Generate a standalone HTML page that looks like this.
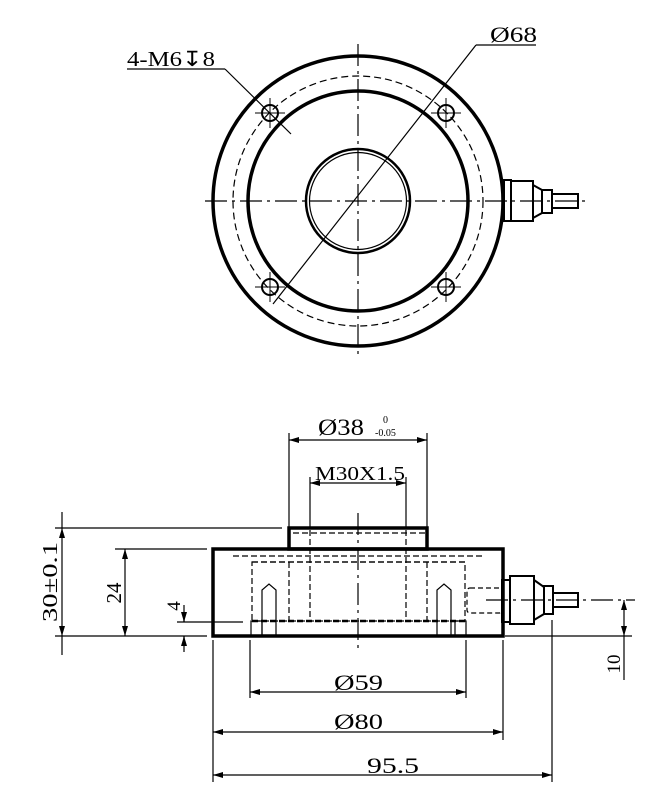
<!DOCTYPE html>
<html><head><meta charset="utf-8"><style>
html,body{margin:0;padding:0;background:#fff;}
svg{display:block;}
text{font-family:"Liberation Serif","Noto Serif CJK SC",serif;fill:#000;}
</style></head><body>
<svg width="669" height="800" viewBox="0 0 669 800" xmlns="http://www.w3.org/2000/svg">
<defs>
<marker id="a" viewBox="0 0 10 6" refX="10" refY="3" markerWidth="10" markerHeight="6" markerUnits="userSpaceOnUse" orient="auto-start-reverse"><path d="M0,0L10,3L0,6z" fill="#000"/></marker>
</defs>
<g fill="none" stroke="#000">
<circle cx="358" cy="201" r="145" stroke-width="3.5"/>
<circle cx="358" cy="201" r="110" stroke-width="3.5"/>
<circle cx="358" cy="201" r="125" stroke-width="1.2" stroke-dasharray="7,4"/>
<circle cx="358" cy="201" r="52" stroke-width="2.5"/>
<circle cx="358" cy="201" r="48.5" stroke-width="1.2"/>
<line x1="205" y1="201" x2="590" y2="201" stroke-width="1.2" stroke-dasharray="22,5,3,5"/>
<line x1="358" y1="44" x2="358" y2="357" stroke-width="1.2" stroke-dasharray="22,5,3,5"/>
<g stroke-width="2">
<circle cx="270" cy="113" r="8"/><circle cx="446" cy="113" r="8"/>
<circle cx="270" cy="287" r="8"/><circle cx="446" cy="287" r="8"/>
</g>
<g stroke-width="1">
<path d="M255,113H285M270,98V128M431,113H461M446,98V128M255,287H285M270,272V302M431,287H461M446,272V302"/>
</g>
<g stroke-width="2">
<rect x="504" y="180" width="7" height="41"/>
<rect x="511" y="181" width="22" height="40"/>
<path d="M533,185L542,190V213L533,218"/>
<rect x="542" y="190" width="10" height="23"/>
<rect x="552" y="194" width="26" height="14"/>
</g>
<g stroke-width="1.2">
<line x1="127" y1="69" x2="225" y2="69"/>
<line x1="225" y1="69" x2="291" y2="134"/>
<line x1="476" y1="45" x2="536" y2="45"/>
<line x1="476" y1="45" x2="273" y2="304"/>
</g>

<rect x="213" y="549" width="290" height="87" stroke-width="3.5"/>
<rect x="289" y="528" width="138" height="21" stroke-width="3.5"/>
<g stroke-width="1.2" stroke-dasharray="6,3">
<line x1="252" y1="562" x2="465" y2="562"/>
<rect x="252" y="562" width="213" height="59"/>
<line x1="289" y1="562" x2="289" y2="621"/>
<line x1="427" y1="562" x2="427" y2="621"/>
<line x1="310" y1="530" x2="310" y2="621"/>
<line x1="406" y1="530" x2="406" y2="621"/>
<line x1="293" y1="533" x2="425" y2="533"/>
<line x1="233" y1="556" x2="485" y2="556"/>
<line x1="252" y1="621" x2="465" y2="621" stroke-width="2.5"/>
</g>
<g stroke-width="1.2">
<path d="M262,636V590L269,584L276,590V636"/>
<path d="M437,636V590L444,584L451,590V636"/>
<rect x="251" y="621" width="11" height="15"/>
<rect x="455" y="621" width="11" height="15"/>
<line x1="358" y1="513" x2="358" y2="650" stroke-dasharray="22,5,3,5"/>
</g>
<g stroke-width="2">
<rect x="467" y="588" width="35" height="25" rx="3" stroke-dasharray="5,3" stroke-width="1.2"/>
<rect x="502" y="580" width="8" height="42"/>
<rect x="510" y="576" width="24" height="48"/>
<path d="M534,580L544,587V614L534,620"/>
<rect x="544" y="586" width="9" height="28"/>
<rect x="553" y="593" width="25" height="14"/>
</g>
<line x1="486" y1="600" x2="635" y2="600" stroke-width="1.2" stroke-dasharray="22,5,3,5"/>

<g stroke-width="1.2">
<path d="M289,433V528M427,433V528M310,477V528M406,477V528"/>
<path d="M55,528H282M115,549H207M177,622H243M55,636H207"/>
<path d="M213,640V782M503,640V740M552,620V782M250,640V698M466,640V698"/>
<path d="M505,636H632"/>
<path d="M62,512V528M62,636V655M184,605V622M184,636V652"/>
<line x1="289" y1="440" x2="427" y2="440" marker-start="url(#a)" marker-end="url(#a)"/>
<line x1="310" y1="483" x2="406" y2="483" marker-start="url(#a)" marker-end="url(#a)"/>
<line x1="62" y1="528" x2="62" y2="636" marker-start="url(#a)" marker-end="url(#a)"/>
<line x1="125" y1="549" x2="125" y2="636" marker-start="url(#a)" marker-end="url(#a)"/>
<line x1="184" y1="612" x2="184" y2="622" marker-end="url(#a)"/>
<line x1="184" y1="646" x2="184" y2="636" marker-end="url(#a)"/>
<line x1="624" y1="600" x2="624" y2="636" marker-start="url(#a)" marker-end="url(#a)"/>
<line x1="624" y1="636" x2="624" y2="680"/>
<line x1="250" y1="692" x2="466" y2="692" marker-start="url(#a)" marker-end="url(#a)"/>
<line x1="213" y1="732" x2="503" y2="732" marker-start="url(#a)" marker-end="url(#a)"/>
<line x1="213" y1="775" x2="552" y2="775" marker-start="url(#a)" marker-end="url(#a)"/>
</g>
</g>
<text x="127" y="66" font-size="21" textLength="88" lengthAdjust="spacingAndGlyphs">4-M6↧8</text>
<text x="490" y="42" font-size="22" textLength="47" lengthAdjust="spacingAndGlyphs">Ø68</text>
<text x="318" y="435" font-size="23" textLength="46" lengthAdjust="spacingAndGlyphs">Ø38</text>
<text x="383" y="423" font-size="10">0</text>
<text x="375" y="436" font-size="10">-0.05</text>
<text x="315" y="480" font-size="20" textLength="90" lengthAdjust="spacingAndGlyphs">M30X1.5</text>
<text x="334" y="690" font-size="22" textLength="49" lengthAdjust="spacingAndGlyphs">Ø59</text>
<text x="334" y="729" font-size="22" textLength="49" lengthAdjust="spacingAndGlyphs">Ø80</text>
<text x="367" y="773" font-size="22" textLength="52" lengthAdjust="spacingAndGlyphs">95.5</text>
<text transform="translate(57,582) rotate(-90)" font-size="21" text-anchor="middle" textLength="80" lengthAdjust="spacingAndGlyphs">30±0.1</text>
<text transform="translate(121,593) rotate(-90)" font-size="21" text-anchor="middle">24</text>
<text transform="translate(180,606) rotate(-90)" font-size="19" text-anchor="middle">4</text>
<text transform="translate(620,664) rotate(-90)" font-size="19" text-anchor="middle">10</text>
</svg>
</body></html>
